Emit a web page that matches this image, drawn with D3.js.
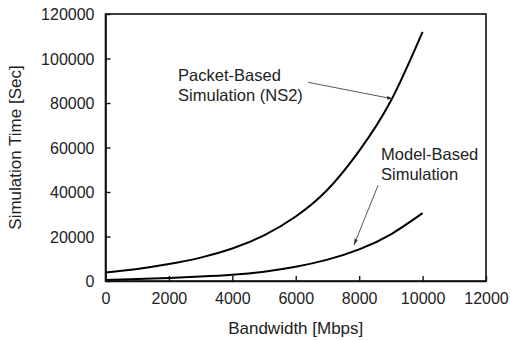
<!DOCTYPE html>
<html>
<head>
<meta charset="utf-8">
<script src="https://cdn.jsdelivr.net/npm/d3@7"></script>
<style>
  html, body { margin: 0; padding: 0; background: #fff; }
  svg { display: block; font-family: "Liberation Sans", Arial, Helvetica, sans-serif; }
</style>
</head>
<body>
<svg id="chart" width="511" height="340"></svg>
<script>
// Data
const bandwidth = [0, 1000, 2000, 3000, 4000, 5000, 6000, 7000, 8000, 9000, 10000];
const packetBased = [3800, 5400, 7600, 10500, 14600, 20500, 29000, 41000, 58500, 81000, 112000];
const modelBased = [500, 900, 1400, 2000, 2800, 4200, 6400, 9600, 14200, 21000, 30500];
const xTicks = [0, 2000, 4000, 6000, 8000, 10000, 12000];
const yTicks = [0, 20000, 40000, 60000, 80000, 100000, 120000];
const xLabel = "Bandwidth [Mbps]";
const yLabel = "Simulation Time [Sec]";
const annotations = [
  { lines: ["Packet-Based", "Simulation (NS2)"], at: [2290, 90000], from: [6390, 89300], to: [9076, 81800] },
  { lines: ["Model-Based", "Simulation"], at: [8690, 54600], from: [8600, 43150], to: [7837, 16180] }
];

const svg = d3.select("#chart");
const m = { left: 105.5, right: 25, top: 14, bottom: 59 };
const W = 511, H = 340;
const x = d3.scaleLinear().domain([0, 12000]).range([m.left, W - m.right]);
const y = d3.scaleLinear().domain([0, 120000]).range([H - m.bottom, m.top]);

svg.append("defs").append("marker")
  .attr("id", "arr").attr("viewBox", "0 0 10 10").attr("refX", 10).attr("refY", 5)
  .attr("markerWidth", 7).attr("markerHeight", 7).attr("orient", "auto")
  .append("path").attr("d", "M0,2 L10,5 L0,8 Z").attr("fill", "#333");

// Frame
svg.append("rect")
  .attr("x", x(0)).attr("y", y(120000))
  .attr("width", x(12000) - x(0)).attr("height", y(0) - y(120000))
  .attr("fill", "none").attr("stroke", "#111").attr("stroke-width", 1.6);

// Axes
const xAxis = d3.axisBottom(x).tickValues(xTicks).tickSizeInner(-5).tickSizeOuter(0).tickPadding(12).tickFormat(d3.format("d"));
const yAxis = d3.axisLeft(y).tickValues(yTicks).tickSizeInner(-5).tickSizeOuter(0).tickPadding(11).tickFormat(d3.format("d"));

const gx = svg.append("g").attr("transform", `translate(0,${y(0)})`).call(xAxis);
const gy = svg.append("g").attr("transform", `translate(${x(0)},0)`).call(yAxis);
[gx, gy].forEach(g => {
  g.select(".domain").attr("stroke", "#111").attr("stroke-width", 1.6);
  g.selectAll(".tick line").attr("stroke", "#111").attr("stroke-width", 1.4);
  g.selectAll(".tick text").attr("fill", "#222").attr("font-size", 16)
    .attr("font-family", "'Liberation Sans', Arial, sans-serif");
});
gy.selectAll(".tick text").attr("dy", "0.36em");

// Axis labels
svg.append("text").attr("x", (x(0) + x(12000)) / 2).attr("y", 334)
  .attr("text-anchor", "middle").attr("font-size", 17).attr("fill", "#222").text(xLabel);
svg.append("text").attr("transform", `translate(21,${(y(0) + y(120000)) / 2}) rotate(-90)`)
  .attr("text-anchor", "middle").attr("font-size", 17).attr("fill", "#222").text(yLabel);

// Lines
const line = d3.line().x((d, i) => x(bandwidth[i])).y(d => y(d)).curve(d3.curveNatural);
[packetBased, modelBased].forEach(s => {
  svg.append("path").datum(s).attr("d", line)
    .attr("fill", "none").attr("stroke", "#000").attr("stroke-width", 2);
});

// Annotations
annotations.forEach(a => {
  const t = svg.append("text").attr("x", x(a.at[0])).attr("y", y(a.at[1]))
    .attr("font-size", 16.5).attr("fill", "#222");
  a.lines.forEach((l, i) => {
    t.append("tspan").attr("x", x(a.at[0])).attr("dy", i === 0 ? 0 : 20).text(l);
  });
  svg.append("line")
    .attr("x1", x(a.from[0])).attr("y1", y(a.from[1]))
    .attr("x2", x(a.to[0])).attr("y2", y(a.to[1]))
    .attr("stroke", "#444").attr("stroke-width", 0.9).attr("marker-end", "url(#arr)");
});
</script>
</body>
</html>
